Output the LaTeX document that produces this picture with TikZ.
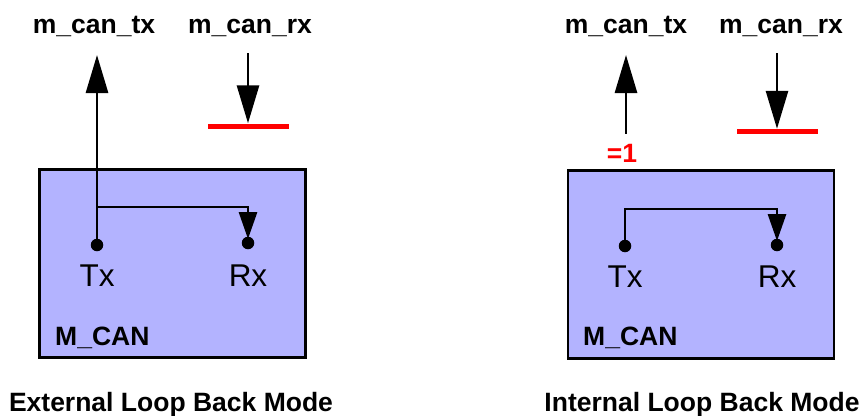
\documentclass[tikz,border=0pt]{standalone}
\usepackage{fontspec}
\setmainfont{Liberation Sans}
\usetikzlibrary{arrows.meta,positioning}
\definecolor{canFill}{RGB}{179,179,255}
\definecolor{canRed} {RGB}{255,  0,  0}

\begin{document}
\begin{tikzpicture}[x=1pt,y=-1pt,
  every node/.style={inner sep=0pt},
  sig/.style={font=\fontsize{26.5}{30}\selectfont\bfseries},
  pinlbl/.style={font=\fontsize{31.5}{36}\selectfont},
  canbox/.style={draw=black,fill=canFill,line width=2.8pt,
                 minimum width=266pt,minimum height=188pt},
  pindot/.style={circle,fill=black,minimum size=12.5pt},
  rxbar/.style={fill=canRed,minimum width=81pt,minimum height=5pt},
  bigarrow/.style={line width=2.8pt,-{Triangle[length=38pt,width=22pt]}},
  looparrow/.style={line width=2.8pt,-{Triangle[length=27pt,width=18pt]},
                    shorten >=-2.5pt}
]
\useasboundingbox (0,0) rectangle (862,415);
% External loop back (left)
\node[canbox] (boxL) at (172.5,263.5) {};
\node[sig,anchor=base] (txsigL) at (94,33)  {m\_can\_tx};
\node[sig,anchor=base] (rxsigL) at (250,33) {m\_can\_rx};
\coordinate (txendL) at (97,55);
\coordinate (rxbegL) at (248,53);
\node[rxbar]  (barL) at (248,126) {};
\node[pindot] (txL)  at (97,245)  {};
\node[pindot] (rxL)  at (248,243) {};
\node[pinlbl,anchor=base] (txlblL) at (97,286)  {Tx};
\node[pinlbl,anchor=base] (rxlblL) at (248,286) {Rx};
\node[sig,anchor=base west] (nameL) at (55,345) {M\_CAN};
\coordinate (loopL) at (97,207);
\draw[bigarrow]  (txL.center) -- (txendL);
\draw[bigarrow]  (rxbegL) -- (barL.north);
\draw[looparrow] (loopL) -| (rxL);
\node[sig,anchor=base] (titleL) at (171,411) {External Loop Back Mode};
% Internal loop back (right)
\node[canbox] (boxR) at (701,264.5) {};
\node[sig,anchor=base] (txsigR) at (626,33) {m\_can\_tx};
\node[sig,anchor=base] (rxsigR) at (781,33) {m\_can\_rx};
\coordinate (txendR) at (626,55);
\coordinate (rxbegR) at (777,53);
\node[rxbar]  (barR) at (777,131.5) {};
\node[sig,text=canRed,anchor=base] (eqR) at (622,162) {=1};
\node[pindot] (txR)  at (625,246) {};
\node[pindot] (rxR)  at (777,245) {};
\node[pinlbl,anchor=base] (txlblR) at (625,287) {Tx};
\node[pinlbl,anchor=base] (rxlblR) at (777,287) {Rx};
\node[sig,anchor=base west] (nameR) at (583,345) {M\_CAN};
\coordinate (loopR) at (625,209);
\draw[bigarrow]  ([yshift=10pt]eqR.north -| txendR) -- (txendR);
\draw[bigarrow]  (rxbegR) -- (barR.north);
\draw[looparrow] (txR) -- (loopR) -| (rxR);
\node[sig,anchor=base] (titleR) at (702,411) {Internal Loop Back Mode};
\end{tikzpicture}
\end{document}
